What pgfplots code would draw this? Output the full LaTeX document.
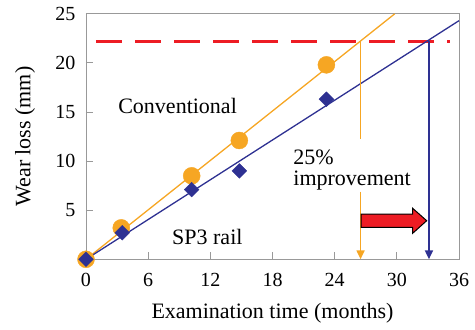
\documentclass[border=0pt]{standalone}
\usepackage{fontspec}
\setmainfont{Liberation Serif}
\usepackage{pgfplots}
\pgfplotsset{compat=1.18}
\usetikzlibrary{arrows.meta}
\definecolor{corange}{HTML}{F6A623}
\definecolor{cblue}{HTML}{2E3192}
\definecolor{cred}{HTML}{ED1C24}
\begin{document}
\begin{tikzpicture}
\begin{axis}[
  name=ax,
  scale only axis,
  width=373pt, height=245.5pt,
  xmin=0, xmax=36, ymin=0, ymax=25,
  xtick={0,6,...,36}, ytick={5,10,...,25},
  xtick pos=bottom, ytick pos=left,
  tick align=inside,
  major tick length=7pt,
  axis line style={draw=gray!80, line width=0.8pt},
  tick style={draw=gray!80, line width=0.8pt},
  /pgf/number format/assume math mode=true,
  xticklabel={\pgfmathprintnumber{\tick}},
  yticklabel={\pgfmathprintnumber{\tick}},
  tick label style={font=\fontsize{20}{24}\selectfont},
  xticklabel style={yshift=-10pt},
  yticklabel style={xshift=-7pt},
  xlabel={Examination time (months)},
  ylabel={Wear loss (mm)},
  label style={font=\fontsize{22}{26}\selectfont},
  xlabel style={at={(axis description cs:0.5,-0.22)}, anchor=center},
  ylabel style={at={(axis description cs:-0.1635,0.5)}, anchor=center},
  clip=false,
]
% threshold
\addplot[cred, line width=2.6pt, dash pattern=on 26pt off 13pt, dash phase=-10pt] coordinates {(0,22.2) (35.1,22.2)};
% fitted lines
\addplot[corange, line width=1.3pt] coordinates {(0,0) (29.8,25)};
\addplot[cblue, line width=1.3pt] coordinates {(0,0) (36,24.3)};
% data
\addplot[only marks, mark=*, mark size=8.5pt, corange, mark options={draw=corange, fill=corange}] coordinates {(0,0) (3.4,3.2) (10.2,8.5) (14.8,12.1) (23.2,19.8)};
\addplot[only marks, mark=square*, mark size=5.2pt, cblue, mark options={draw=cblue, fill=cblue, rotate=45}] coordinates {(0,0) (3.5,2.7) (10.2,7.1) (14.8,9.0) (23.2,16.3)};
% vertical lines
\addplot[corange, line width=1.8pt] coordinates {(26.5,22.2) (26.5,12.3)};
\addplot[corange, line width=1.8pt, -{Triangle[width=8pt,length=9pt]}] coordinates {(26.5,6.9) (26.5,0)};
\addplot[cblue, line width=1.8pt, -{Triangle[width=8pt,length=9pt]}] coordinates {(33.1,22.2) (33.1,0)};
% block arrow
\addplot[fill=cred, draw=black, line width=1pt] coordinates {(26.56,4.61) (31.53,4.61) (31.53,5.19) (32.88,3.93) (31.53,2.65) (31.53,3.26) (26.56,3.26)} -- cycle;
% texts
\node[anchor=west, inner sep=0pt, font=\fontsize{22}{26}\selectfont] at (axis cs:3.1,15.6) {Conventional};
\node[anchor=west, inner sep=0pt, font=\fontsize{22}{26}\selectfont] at (axis cs:8.3,2.3) {SP3 rail};
\node[anchor=west, inner sep=0pt, align=left, font=\fontsize{22}{21}\selectfont] at (axis cs:20,9.1) {25\%\\improvement};
\end{axis}
\pgfresetboundingbox
\path ([xshift=-86pt,yshift=-69.7pt]ax.south west) rectangle ([xshift=16pt,yshift=13.8pt]ax.north east);
\end{tikzpicture}
\end{document}
